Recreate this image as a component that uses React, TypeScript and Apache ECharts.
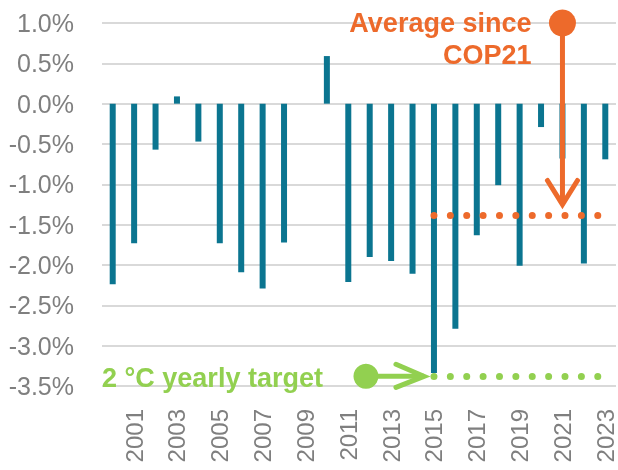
import React, { useEffect, useRef } from "react";
import * as echarts from "echarts";

const years = [
  "2000", "2001", "2002", "2003", "2004", "2005", "2006", "2007", "2008", "2009",
  "2010", "2011", "2012", "2013", "2014", "2015", "2016", "2017", "2018", "2019",
  "2020", "2021", "2022", "2023",
];
const changes = [
  -2.24, -1.73, -0.57, 0.09, -0.47, -1.73, -2.09, -2.29, -1.72, 0,
  0.59, -2.21, -1.9, -1.95, -2.11, -3.34, -2.79, -1.63, -1.01, -2.01,
  -0.29, -0.68, -1.98, -0.69,
];
const yMin = -3.5;
const yMax = 1.0;
const yStep = 0.5;
const targetValue = -3.38;
const cop21FirstYear = "2016";
const refLineStart = "2015";
const refLineEnd = "2023";
const arrowYear = "2021";
const arrowTopValue = 1.0;
const arrowTipValue = -1.25;

const TEAL = "#0b7590";
const ORANGE = "#ed6a2b";
const GREEN = "#92d050";
const GRAY = "#7f7f7f";
const FONT = "Liberation Sans, Arial, sans-serif";

const cop21Idx = years.indexOf(cop21FirstYear);
const avgSinceCop21 =
  changes.slice(cop21Idx).reduce((a, b) => a + b, 0) / (changes.length - cop21Idx);

export default function App() {
  const ref = useRef<HTMLDivElement>(null);
  useEffect(() => {
    if (!ref.current) return;
    const chart = echarts.init(ref.current, null, { renderer: "svg" });
    const dotted = (color: string) => ({
      color,
      width: 7,
      type: [0.01, 16.37],
      cap: "round",
    });
    chart.setOption({
      animation: false,
      grid: { left: 102, right: 2, top: 23, bottom: 84 },
      xAxis: {
        type: "category",
        data: years,
        axisLine: { show: false, onZero: false },
        axisTick: { show: false },
        splitLine: { show: false },
        axisLabel: {
          rotate: 90,
          margin: 23,
          color: GRAY,
          fontSize: 24,
          fontFamily: FONT,
          interval: (i: number) => i % 2 === 1,
        },
      },
      yAxis: {
        type: "value",
        min: yMin,
        max: yMax,
        interval: yStep,
        axisLine: { show: false },
        axisTick: { show: false },
        splitLine: { lineStyle: { color: "#d9d9d9", width: 2 } },
        axisLabel: {
          margin: 28,
          color: GRAY,
          fontSize: 25,
          fontFamily: FONT,
          formatter: (v: number) => v.toFixed(1) + "%",
        },
      },
      series: [
        {
          type: "bar",
          data: changes,
          barWidth: 6,
          itemStyle: { color: TEAL },
          markLine: {
            silent: true,
            symbol: "none",
            label: { show: false },
            data: [
              [
                { coord: [refLineStart, avgSinceCop21], lineStyle: dotted(ORANGE) },
                { coord: [refLineEnd, avgSinceCop21] },
              ],
              [
                { coord: [refLineStart, targetValue], lineStyle: dotted(GREEN) },
                { coord: [refLineEnd, targetValue] },
              ],
            ],
          },
        },
      ],
    });

    const px = (cat: string, v: number) =>
      chart.convertToPixel({ gridIndex: 0 }, [years.indexOf(cat), v]) as number[];
    const [ax, ay] = px(arrowYear, arrowTopValue);
    const [, tipY] = px(arrowYear, arrowTipValue);
    const [sx, gy] = px(refLineStart, targetValue);
    const gridLeft = px(years[0], 0)[0] - 10.7;
    const gTipX = sx - 10;
    const gCircX = sx - 68;

    chart.setOption({
      graphic: [
        {
          type: "line",
          z: 50,
          shape: { x1: ax, y1: ay, x2: ax, y2: tipY },
          style: { stroke: ORANGE, lineWidth: 5 },
        },
        {
          type: "polyline",
          z: 50,
          shape: { points: [[ax - 15, tipY - 24], [ax, tipY], [ax + 15, tipY - 24]] },
          style: { stroke: ORANGE, lineWidth: 5, fill: "none", lineCap: "round" },
        },
        {
          type: "circle",
          z: 51,
          shape: { cx: ax, cy: ay, r: 13.5 },
          style: { fill: ORANGE },
        },
        {
          type: "text",
          z: 52,
          x: ax - 31,
          y: ay - 16,
          style: {
            text: "Average since\nCOP21",
            align: "right",
            verticalAlign: "top",
            lineHeight: 32,
            font: `bold 27px ${FONT}`,
            fill: ORANGE,
          },
        },
        {
          type: "line",
          z: 50,
          shape: { x1: gCircX, y1: gy, x2: gTipX, y2: gy },
          style: { stroke: GREEN, lineWidth: 5 },
        },
        {
          type: "polyline",
          z: 50,
          shape: { points: [[gTipX - 28, gy - 12], [gTipX, gy], [gTipX - 28, gy + 11]] },
          style: { stroke: GREEN, lineWidth: 5, fill: "none", lineCap: "round" },
        },
        {
          type: "circle",
          z: 51,
          shape: { cx: gCircX, cy: gy, r: 12.5 },
          style: { fill: GREEN },
        },
        {
          type: "text",
          z: 52,
          x: gridLeft,
          y: gy + 2,
          style: {
            text: "2 °C yearly target",
            align: "left",
            verticalAlign: "middle",
            font: `bold 27px ${FONT}`,
            fill: GREEN,
          },
        },
      ],
    });
    return () => chart.dispose();
  }, []);
  return (
    <div
      ref={ref}
      style={{ position: "fixed", left: 0, top: 0, width: 618, height: 470 }}
    />
  );
}
